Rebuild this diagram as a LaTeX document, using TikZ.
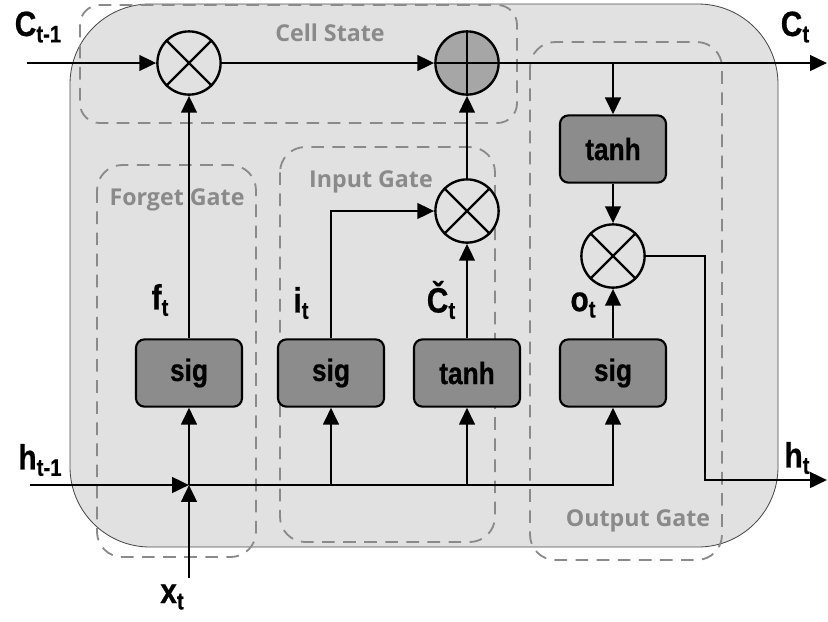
\documentclass[tikz,border=0pt]{standalone}
\usepackage{fontspec}
\setmainfont{Liberation Sans}
\newfontfamily\gatefont{Open Sans}
\newfontfamily\narrowfont[FakeStretch=0.85,FakeBold=0.6]{Liberation Sans Bold}
\usetikzlibrary{arrows.meta,calc}

\definecolor{cellbg}{HTML}{E1E1E1}
\definecolor{boxfill}{HTML}{8C8C8C}
\definecolor{addfill}{HTML}{A6A6A6}
\definecolor{dashgray}{HTML}{8A8A8A}

% letter with a lowered index
\newcommand{\sublbl}[2]{#1\raisebox{-4.5pt}{\fontsize{17}{17}\selectfont #2}}

\begin{document}
\begin{tikzpicture}[
  x=0.025cm,y=-0.025cm,
  >={Triangle[length=12pt,width=11pt]},
  gatebox/.style={draw=black,line width=1.5pt,rounded corners=6pt,fill=boxfill,
                  minimum width=2.65cm,minimum height=1.68cm,
                  font=\narrowfont\fontsize{22}{22}\selectfont},
  opnode/.style={circle,draw=black,line width=1.7pt,fill=cellbg,
                 minimum size=1.58cm,inner sep=0pt},
  flow/.style={->,line width=2pt},
  zone/.style={draw=dashgray,line width=1.3pt,dash pattern=on 9pt off 6pt,
               rounded corners=18pt},
  zonelab/.style={text=dashgray,font=\gatefont\bfseries\fontsize{16.5}{16.5}\selectfont},
  lab/.style={font=\narrowfont\fontsize{25}{25}\selectfont,inner sep=0pt}
]
\useasboundingbox (0,0) rectangle (828,621);

% ---- celula ----
\fill[cellbg,draw=black!70,line width=0.6pt,rounded corners=2cm]
  (70,4) rectangle (778,547);

% ---- zonele punctate ----
\draw[zone,rounded corners=14pt] (80,5) rectangle (517,123);
\draw[zone] (97,165) rectangle (256,557);
\draw[zone] (280,147) rectangle (495,542);
\draw[zone] (530,42) rectangle (722,560);
\node[zonelab] (lcell) at (330,33) {Cell State};
\node[zonelab] (lforget) at (177,200) {Forget Gate};
\node[zonelab] (linput) at (371,182) {Input Gate};
\node[zonelab] (loutput) at (638,521) {Output Gate};

% ---- operatii ----
\node[opnode] (mulf) at (189,63) {};
\node[opnode,fill=addfill] (add) at (467,63) {};
\node[opnode] (muli) at (467,211) {};
\node[opnode] (mulo) at (613,256) {};
\foreach \n in {mulf,muli,mulo}
  \draw[line width=1.7pt] (\n.north east) -- (\n.south west)
                          (\n.north west) -- (\n.south east);
\draw[line width=1.7pt] (add.north) -- (add.south) (add.west) -- (add.east);

% ---- blocuri de activare ----
\node[gatebox] (fsig) at (189,373) {sig};
\node[gatebox] (isig) at (331,373) {sig};
\node[gatebox] (itanh) at (467,373) {tanh};
\node[gatebox] (osig) at (613,373) {sig};
\node[gatebox] (otanh) at (613,149) {tanh};

% ---- capete libere ----
\coordinate (cin) at (27,63);
\coordinate (cout) at (827,63);
\coordinate (hin) at (30,485);
\coordinate (jn) at (189,485);
\coordinate (xin) at (189,578);
\coordinate (hturn) at (705,480);
\coordinate (hout) at (827,480);

% ---- starea celulei ----
\draw[flow] (cin) -- (mulf);
\draw[flow] (mulf) -- (add);
\draw[flow] (add) -- (cout);

% ---- intrari ----
\draw[flow] (hin) -- (jn);
\draw[flow] (xin) -- (jn);
\draw[flow] (jn) -- (fsig);
\draw[flow] (jn) -| (osig);
\draw[flow] (isig |- jn) -- (isig);
\draw[flow] (itanh |- jn) -- (itanh);

% ---- porti ----
\draw[flow] (fsig) -- (mulf);
\draw[flow] (isig.north) |- (muli.west);
\draw[flow] (itanh) -- (muli);
\draw[flow] (muli) -- (add);
\draw[flow] (osig) -- (mulo);
\draw[flow] (otanh |- add) -- (otanh);
\draw[flow] (otanh) -- (mulo);
\draw[flow] (mulo.east) -| (hturn) -- (hout);

% ---- etichete ----
\node[lab] (lcprev) at (38,27) {\sublbl{C}{t-1}};
\node[lab] (lcnext) at (795,27) {\sublbl{C}{t}};
\node[lab] (lhprev) at (40,460) {\sublbl{h}{t-1}};
\node[lab] (lhnext) at (797,458) {\sublbl{h}{t}};
\node[lab] (lx) at (172,597) {\sublbl{x}{t}};
\node[lab] (lf) at (160,300) {\sublbl{f}{t}};
\node[lab] (li) at (301,303) {\sublbl{i}{t}};
\node[lab] (lc) at (441,300) {\sublbl{Č}{t}};
\node[lab] (lo) at (583,305) {\sublbl{o}{t}};
\end{tikzpicture}
\end{document}
